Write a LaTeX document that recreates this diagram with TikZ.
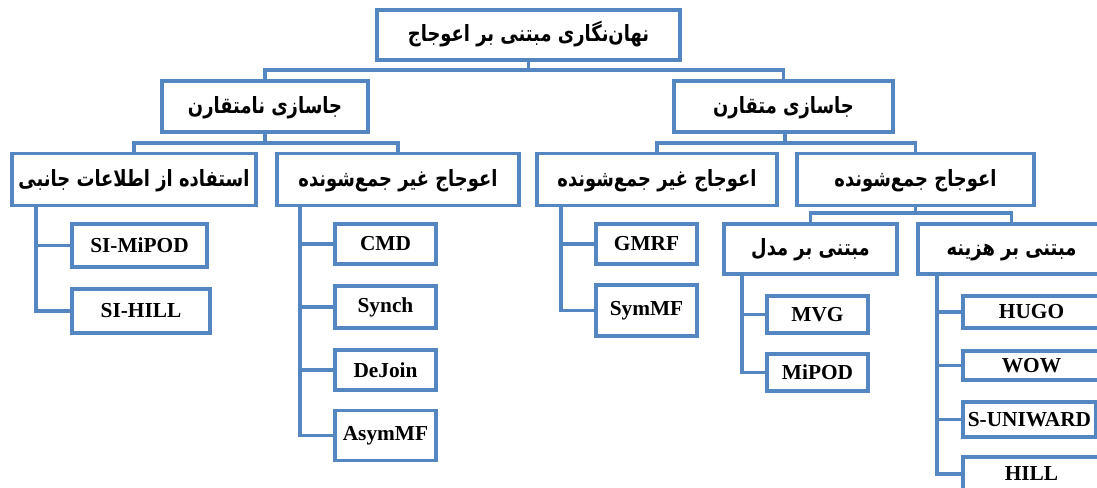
\documentclass[tikz,border=0pt]{standalone}
\usepackage{fontspec}
\setmainfont{Liberation Serif}
\newfontfamily\fafont[Script=Arabic,FakeStretch=0.8]{DejaVu Sans}
\TeXXeTstate=1
\definecolor{ln}{RGB}{84,134,194}
\begin{document}
\begin{tikzpicture}[x=0.75pt,y=-0.75pt,
  bx/.style 2 args={draw=ln, line width=2.4pt, fill=white, minimum width=#1*0.75pt, minimum height=#2*0.75pt, inner sep=0pt, outer sep=0pt},
  fa/.style={font=\fafont\bfseries\fontsize{16.8}{19}\selectfont, text height=14.5pt, text depth=4pt},
  en/.style={font=\bfseries\fontsize{16}{19}\selectfont},
  wire/.style={draw=ln, line width=2.4pt, line join=miter}]
\useasboundingbox (0,0) rectangle (1097,488);
\clip (0,0) rectangle (1097,488);
% level 1
\node[bx={303}{50},fa] (top) at (528.5,35) {\beginR نهان‌نگاری مبتنی بر اعوجاج\endR};
% level 2
\node[bx={206}{51},fa] (asym) at (265,106.5) {\beginR جاسازی نامتقارن\endR};
\node[bx={219}{51},fa] (sym) at (783.5,106.5) {\beginR جاسازی متقارن\endR};
% level 3
\node[bx={244}{52},fa] (side) at (134,179.5) {\beginR استفاده از اطلاعات جانبی\endR};
\node[bx={242}{52},fa] (nadd1) at (398,179.5) {\beginR اعوجاج غیر جمع‌شونده\endR};
\node[bx={240}{52},fa] (nadd2) at (657,179.5) {\beginR اعوجاج غیر جمع‌شونده\endR};
\node[bx={237}{52},fa] (add) at (915.5,179.5) {\beginR اعوجاج جمع‌شونده\endR};
% level 4
\node[bx={173}{50},fa] (model) at (810.5,249) {\beginR مبتنی بر مدل\endR};
\node[bx={187}{50},fa] (cost) at (1011.5,249) {\beginR مبتنی بر هزینه\endR};
% leaves
\node[bx={135}{43},en] (simipod) at (139.5,245.5) {SI-MiPOD};
\node[bx={138}{44},en] (sihill) at (141,311) {SI-HILL};
\node[bx={101}{40},en] (cmd) at (385.5,244) {CMD};
\node[bx={101}{42},en] (synch) at (385.5,307) {Synch};
\node[bx={101}{40},en] (dejoin) at (385.5,370) {DeJoin};
\node[bx={101}{50},en] (asymmf) at (385.5,435.5) {AsymMF};
\node[bx={101}{40},en] (gmrf) at (646.5,244) {GMRF};
\node[bx={101}{51},en] (symmf) at (646.5,310.5) {SymMF};
\node[bx={101}{37},en] (mvg) at (817.5,314.5) {MVG};
\node[bx={101}{37},en] (mipod) at (817.5,372.5) {MiPOD};
\node[bx={137}{32},en] (hugo) at (1031.5,312) {HUGO};
\node[bx={137}{29},en] (wow) at (1031.5,365.5) {WOW};
\node[bx={133}{35},en] (suni) at (1029.5,419.5) {S-UNIWARD};
\node[bx={137}{34},en] (hill) at (1031.5,474) {HILL};
% buses
\coordinate (b0) at (528.5,70);
\coordinate (b1) at (265,143);
\coordinate (b2) at (785,143);
\coordinate (b3) at (915.5,213);
\draw[wire] (top.south) -- (b0);
\draw[wire] (asym.north) |- (b0) -| (sym.north);
\draw[wire] (asym.south) -- (b1);
\draw[wire] (side.north) |- (b1) -| (nadd1.north);
\draw[wire] (sym.south -| b2) -- (b2);
\draw[wire] (nadd2.north) |- (b2) -| (add.north);
\draw[wire] (add.south) -- (b3);
\draw[wire] (model.north) |- (b3) -| (cost.north);
% spines
\coordinate (s1) at (36,0);
\coordinate (s2) at (300,0);
\coordinate (s3) at (561,0);
\coordinate (s4) at (742,0);
\coordinate (s5) at (937,0);
\draw[wire] (side.south -| s1) |- (simipod.west);
\draw[wire] (side.south -| s1) |- (sihill.west);
\draw[wire] (nadd1.south -| s2) |- (cmd.west);
\draw[wire] (nadd1.south -| s2) |- (synch.west);
\draw[wire] (nadd1.south -| s2) |- (dejoin.west);
\draw[wire] (nadd1.south -| s2) |- (asymmf.west);
\draw[wire] (nadd2.south -| s3) |- (gmrf.west);
\draw[wire] (nadd2.south -| s3) |- (symmf.west);
\draw[wire] (model.south -| s4) |- (mvg.west);
\draw[wire] (model.south -| s4) |- (mipod.west);
\draw[wire] (cost.south -| s5) |- (hugo.west);
\draw[wire] (cost.south -| s5) |- (wow.west);
\draw[wire] (cost.south -| s5) |- (suni.west);
\draw[wire] (cost.south -| s5) |- (hill.west);
\end{tikzpicture}
\end{document}
